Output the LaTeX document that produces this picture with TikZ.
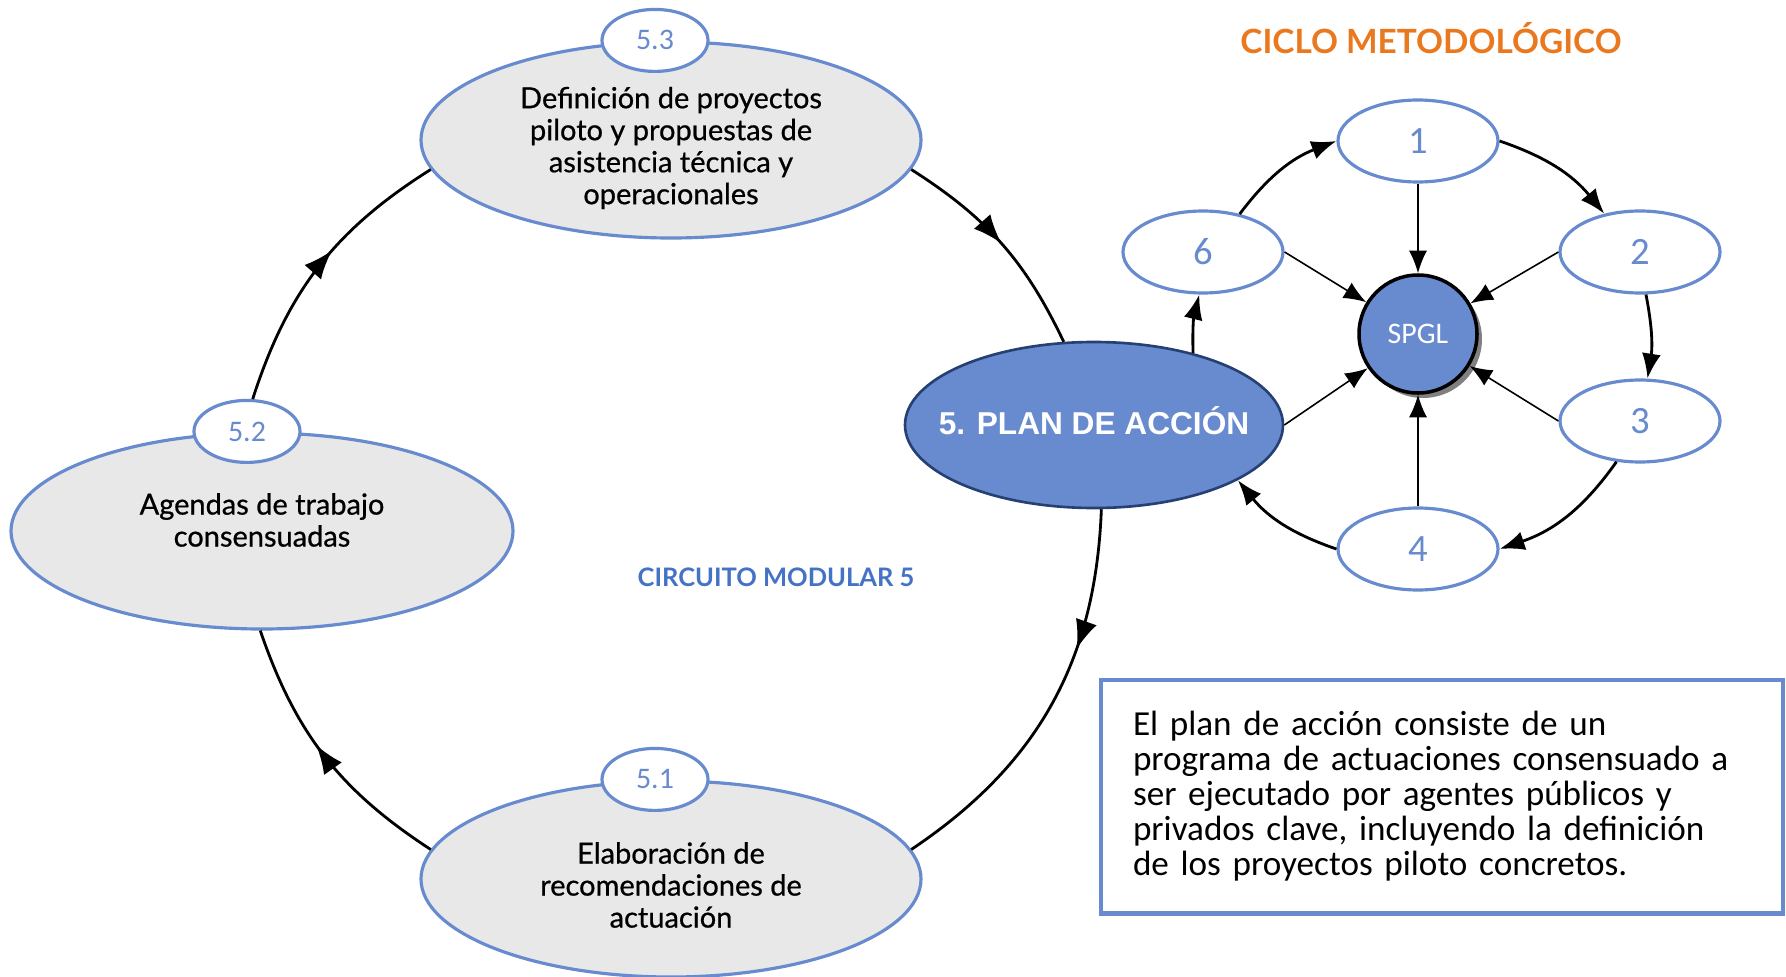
\documentclass[tikz,border=0pt]{standalone}
\usepackage{fontspec}
\setmainfont{Carlito}
\newfontfamily\arialfont{Liberation Sans}
\newfontfamily\latofont{Lato}
\newfontfamily\latomedio[FakeBold=0.7]{Lato}
\usetikzlibrary{arrows.meta,shapes.geometric,decorations.markings,shadows}

\definecolor{azul}{RGB}{104,138,206}
\definecolor{azultexto}{RGB}{68,114,196}
\definecolor{azulosc}{RGB}{38,64,115}
\definecolor{gris}{RGB}{232,232,232}
\definecolor{naranja}{RGB}{234,120,30}

\begin{document}
\begin{tikzpicture}[
	paso/.style={ellipse,draw=azul,line width=1.8pt,fill=gris,minimum width=10cm,minimum height=3.92cm,inner sep=0pt},
	textopaso/.style={align=center,font=\latomedio\fontsize{16.5}{18.2}\selectfont},
	etiqueta/.style={ellipse,draw=azul,line width=1.8pt,fill=white,minimum width=2.12cm,minimum height=1.24cm,inner sep=0pt,text=azul,font=\fontsize{17}{19}\selectfont},
	ciclo/.style={ellipse,draw=azul,line width=1.8pt,fill=white,minimum width=3.2cm,minimum height=1.64cm,inner sep=0pt,text=azul,font=\fontsize{22}{24}\selectfont},
	flecha/.style={line width=1.6pt,-{Latex[length=0.5cm,width=0.38cm]}},
	flechamedia/.style={line width=1.6pt,postaction={decorate},decoration={markings,mark=at position #1 with {\arrow{Latex[length=0.58cm,width=0.44cm]}}}},
	radio/.style={line width=0.9pt,-{Latex[length=0.45cm,width=0.36cm]}}
]
	\useasboundingbox (0,0) rectangle (35.72,-19.54);

	% circuito modular
	\node[paso,label={[textopaso,yshift=-0.16cm]center:Definición de proyectos\\piloto y propuestas de\\asistencia técnica y\\operacionales}] (d53) at (13.42,-2.80) {};
	\node[paso,minimum width=10.04cm,label={[textopaso,yshift=0.22cm]center:Agendas de trabajo\\consensuadas}] (d52) at (5.24,-10.62) {};
	\node[paso,label={[textopaso,yshift=-0.12cm]center:Elaboración de\\recomendaciones de\\actuación}] (d51) at (13.42,-17.58) {};
	\node[etiqueta] (t53) at ([xshift=-0.32cm]d53.north) {5.3};
	\node[etiqueta] (t52) at ([xshift=-0.30cm]d52.north) {5.2};
	\node[etiqueta] (t51) at ([xshift=-0.32cm]d51.north) {5.1};
	\node[ellipse,draw=azulosc,line width=1.5pt,fill=azul,minimum width=7.56cm,minimum height=3.32cm,inner sep=0pt,
		label={[text=white,font=\arialfont\bfseries\fontsize{18}{20}\selectfont,yshift=0.08cm]center:5. PLAN DE ACCIÓN}] (plan) at (21.88,-8.50) {};
	\node[text=azultexto,font=\latofont\bfseries\fontsize{14.5}{17}\selectfont] (circuito) at (15.52,-11.54) {CIRCUITO MODULAR 5};

	\draw[flechamedia=0.55] (d51.173) to[bend left=19] (d52.-91);
	\draw[flechamedia=0.57] (t52.80) to[bend left=20] (d53.187);
	\draw[flechamedia=0.5] (d53.-7) to[bend left=16] (plan.110);
	\draw[flechamedia=0.35] (plan.-85) to[bend left=27] (d51.7);

	% ciclo metodologico
	\node[text=naranja,font=\latofont\bfseries\fontsize{19}{22}\selectfont] (titulo) at (28.62,-0.76) {CICLO METODOLÓGICO};
	\node[circle,draw=black,line width=2pt,fill=azul,minimum size=2.36cm,inner sep=0pt,text=white,font=\fontsize{17}{19}\selectfont,
		drop shadow={shadow xshift=0.1cm,shadow yshift=-0.1cm,fill=black!50,opacity=1}] (spgl) at (28.36,-6.68) {SPGL};
	\node[ciclo] (n1) at (28.36,-2.82) {1};
	\node[ciclo] (n2) at (32.80,-5.04) {2};
	\node[ciclo] (n3) at (32.80,-8.42) {3};
	\node[ciclo] (n4) at (28.36,-10.98) {4};
	\node[ciclo] (n6) at (24.06,-5.04) {6};

	\draw[flecha] (n1.east) to[bend left=16] (n2.133);
	\draw[flecha] (n2.-82) to[bend left=10] (n3.80);
	\draw[flecha] (n3.-120) to[bend left=18] (n4.east);
	\draw[flecha] (n4.west) to[bend left=16] (plan.-21);
	\draw[flecha] (plan.36) to[bend left=8] (n6.-95);
	\draw[flecha] (n6.46) to[bend left=16] (n1.west);
	\foreach \a in {n1.south,n2.west,n3.west,n4.north,n6.east,plan.east} {
		\draw[radio] (\a) -- (spgl);
	}

	\node[draw=azul,line width=2.3pt,text width=12.36cm,inner sep=0.64cm,minimum height=4.58cm,align=left,font=\fontsize{20}{19.9}\selectfont] (caja) at (28.84,-15.93)
		{El plan de acción consiste de un\\programa de actuaciones consensuado a\\ser ejecutado por agentes públicos y\\privados clave, incluyendo la definición\\de los proyectos piloto concretos.};
\end{tikzpicture}
\end{document}
